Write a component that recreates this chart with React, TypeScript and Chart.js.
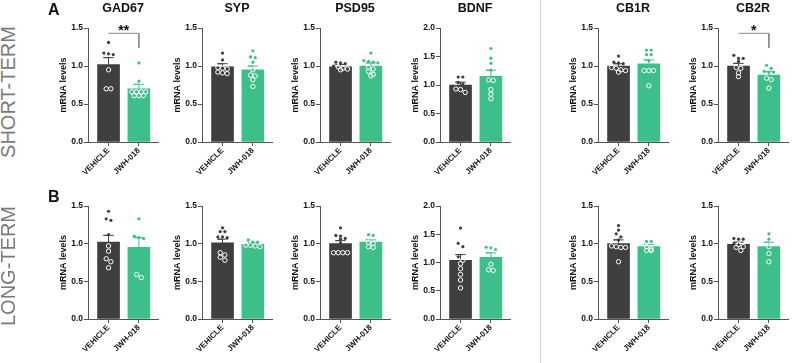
import React, { useEffect, useRef } from "react";
import { Chart, registerables } from "chart.js";

Chart.register(...registerables);
Chart.defaults.font.family = "'Liberation Sans', Arial, sans-serif";

// ---------------- DATA ----------------
const genes = ["GAD67", "SYP", "PSD95", "BDNF", "CB1R", "CB2R"];
const groups = ["VEHICLE", "JWH-018"];
const yMaxByGene = [1.5, 1.5, 1.5, 2.0, 1.5, 1.5];
const yStep = 0.5;

// SHORT-TERM (panel A)
const shortVehicleMean = [1.02, 0.99, 0.99, 1.0, 1.0, 1.0];
const shortVehicleSem = [0.09, 0.04, 0.03, 0.05, 0.03, 0.035];
const shortJwhMean = [0.7, 0.95, 1.0, 1.15, 1.03, 0.88];
const shortJwhSem = [0.06, 0.05, 0.04, 0.11, 0.05, 0.045];
const shortVehiclePoints = [
  [1.31, 1.17, 1.16, 1.15, 0.95, 0.7, 0.7],
  [1.17, 1.08, 0.98, 0.97, 0.96, 0.92, 0.91, 0.9],
  [1.05, 1.04, 1.03, 1.0, 0.99, 0.97, 0.96, 0.95],
  [1.14, 1.14, 1.04, 1.02, 0.93, 0.92, 0.87],
  [1.13, 1.05, 1.04, 1.03, 0.98, 0.97, 0.95, 0.94, 0.92],
  [1.14, 1.1, 1.1, 1.06, 0.98, 0.97, 0.91, 0.86],
];
const shortJwhPoints = [
  [1.04, 0.8, 0.66, 0.66, 0.66, 0.66, 0.61, 0.61, 0.61],
  [1.2, 1.12, 1.11, 1.05, 0.95, 0.88, 0.87, 0.82, 0.73],
  [1.17, 1.07, 1.06, 1.05, 1.04, 0.98, 0.96, 0.93, 0.89, 0.87],
  [1.64, 1.47, 1.38, 1.26, 1.09, 1.08, 0.92, 0.84, 0.76],
  [1.21, 1.21, 1.15, 1.15, 1.07, 0.94, 0.94, 0.94, 0.74],
  [1.01, 0.97, 0.93, 0.92, 0.92, 0.84, 0.82, 0.71],
];
const shortSignificance = ["**", "", "", "", "", "*"];

// LONG-TERM (panel B)
const longVehicleMean = [1.02, 1.01, 1.0, 1.04, 1.0, 0.99];
const longVehicleSem = [0.09, 0.05, 0.04, 0.1, 0.05, 0.03];
const longJwhMean = [0.95, 0.99, 1.02, 1.09, 0.96, 0.96];
const longJwhSem = [0.13, 0.02, 0.03, 0.08, 0.03, 0.06];
const longVehiclePoints = [
  [1.43, 1.33, 1.31, 1.12, 0.97, 0.9, 0.8, 0.76, 0.68],
  [1.21, 1.16, 1.16, 1.09, 1.09, 1.08, 0.88, 0.85, 0.82, 0.78],
  [1.21, 1.11, 1.1, 1.07, 1.06, 1.01, 0.88, 0.88, 0.88, 0.88],
  [1.61, 1.34, 1.28, 1.1, 1.04, 0.98, 0.89, 0.79, 0.69, 0.55],
  [1.24, 1.18, 1.13, 1.09, 1.05, 0.97, 0.96, 0.95, 0.95, 0.76],
  [1.07, 1.06, 1.06, 1.0, 0.99, 0.96, 0.95, 0.91],
];
const longJwhPoints = [
  [1.33, 1.1, 1.08, 1.07, 0.59, 0.55],
  [1.05, 1.02, 1.02, 0.98, 0.98, 0.97, 0.96],
  [1.12, 1.11, 1.02, 1.0, 0.96, 0.95],
  [1.27, 1.26, 1.23, 0.97, 0.87, 0.86],
  [1.03, 1.03, 0.96, 0.93, 0.91, 0.91],
  [1.13, 1.06, 0.96, 0.87, 0.76],
];
const longSignificance = ["", "", "", "", "", ""];

const bracketY = 1.43;
const bracketLegEnd = 1.24;

// ---------------- LAYOUT / STYLE ----------------
const DARK = "#3f3f3f";
const GREEN = "#3dbf8a";
const AXIS = "#555";
const COLUMN_AXIS_X = [88, 202, 320, 440, 598, 718];
const ROW_TOP = [0, 178];
const PLOT_H = [114, 113];
const PAD_TOP = 28;
const Y_AXIS_W = 40;
const X_AXIS_H = 40;
const PLOT_W = 75;
const X_MIN = -0.677;
const X_MAX = 1.63;
const PX_PER_X = PLOT_W / (X_MAX - X_MIN);

type Pt = { x: number; y: number };

function swarm(values: number[], center: number, yMax: number, plotH: number): Pt[] {
  const pxY = plotH / yMax;
  const sorted = [...values].sort((a, b) => b - a);
  const rows: number[][] = [];
  for (const v of sorted) {
    const last = rows[rows.length - 1];
    if (last && (last[0] - v) * pxY < 3.5) last.push(v);
    else rows.push([v]);
  }
  const step = 5 / PX_PER_X;
  const pts: Pt[] = [];
  for (const r of rows) {
    r.forEach((v, k) => pts.push({ x: center + (k - (r.length - 1) / 2) * step, y: v }));
  }
  return pts;
}

function errPath(center: number, mean: number, sem: number): Pt[] {
  const cap = 5.5 / PX_PER_X;
  const top = mean + sem;
  return [
    { x: center, y: mean },
    { x: center, y: top },
    { x: center - cap, y: top },
    { x: center + cap, y: top },
  ];
}

function makeConfig(row: number, gi: number): any {
  const isShort = row === 0;
  const vm = (isShort ? shortVehicleMean : longVehicleMean)[gi];
  const vs = (isShort ? shortVehicleSem : longVehicleSem)[gi];
  const jm = (isShort ? shortJwhMean : longJwhMean)[gi];
  const js = (isShort ? shortJwhSem : longJwhSem)[gi];
  const vp = (isShort ? shortVehiclePoints : longVehiclePoints)[gi];
  const jp = (isShort ? shortJwhPoints : longJwhPoints)[gi];
  const sig = (isShort ? shortSignificance : longSignificance)[gi];
  const yMax = yMaxByGene[gi];
  const plotH = PLOT_H[row];

  const vSw = swarm(vp, 0, yMax, plotH);
  const jSw = swarm(jp, 1, yMax, plotH);

  const datasets: any[] = [
    {
      type: "bar",
      data: [
        { x: 0, y: vm },
        { x: 1, y: jm },
      ],
      backgroundColor: [DARK, GREEN],
      borderWidth: 0,
      barThickness: 22,
      order: 5,
    },
    {
      type: "line",
      data: errPath(0, vm, vs),
      borderColor: DARK,
      borderWidth: 1,
      pointRadius: 0,
      tension: 0,
      fill: false,
      order: 4,
    },
    {
      type: "line",
      data: errPath(1, jm, js),
      borderColor: GREEN,
      borderWidth: 1,
      pointRadius: 0,
      tension: 0,
      fill: false,
      order: 4,
    },
    {
      type: "scatter",
      data: vSw.filter((p) => p.y > vm),
      pointRadius: 1.6,
      pointBackgroundColor: DARK,
      pointBorderWidth: 0,
      order: 1,
    },
    {
      type: "scatter",
      data: vSw.filter((p) => p.y <= vm),
      pointRadius: 2.2,
      pointBackgroundColor: "rgba(0,0,0,0)",
      pointBorderColor: "#ffffff",
      pointBorderWidth: 1,
      order: 1,
    },
    {
      type: "scatter",
      data: jSw.filter((p) => p.y > jm),
      pointRadius: 1.6,
      pointBackgroundColor: GREEN,
      pointBorderWidth: 0,
      order: 1,
    },
    {
      type: "scatter",
      data: jSw.filter((p) => p.y <= jm),
      pointRadius: 2.2,
      pointBackgroundColor: "rgba(0,0,0,0)",
      pointBorderColor: "#ffffff",
      pointBorderWidth: 1,
      order: 1,
    },
  ];

  if (sig) {
    datasets.push({
      type: "line",
      data: [
        { x: 0, y: bracketY },
        { x: 1, y: bracketY },
        { x: 1, y: bracketLegEnd },
      ],
      borderColor: "#888",
      borderWidth: 1,
      pointRadius: 0,
      tension: 0,
      fill: false,
      order: 0,
    });
  }

  const sigPlugin = {
    id: "sigText",
    afterDatasetsDraw(chart: any) {
      if (!sig) return;
      const ctx = chart.ctx;
      const xs = chart.scales.x;
      const ys = chart.scales.y;
      ctx.save();
      ctx.fillStyle = "#111";
      ctx.font = "bold 14px 'Liberation Sans', Arial, sans-serif";
      ctx.textAlign = "center";
      ctx.textBaseline = "alphabetic";
      ctx.fillText(sig, xs.getPixelForValue(0.5), ys.getPixelForValue(bracketY) + 2);
      ctx.restore();
    },
  };

  return {
    type: "bar",
    data: { datasets },
    plugins: [sigPlugin],
    options: {
      animation: false,
      responsive: false,
      devicePixelRatio: 1,
      events: [],
      layout: { padding: { top: isShort ? 0 : PAD_TOP, left: 0, right: 0, bottom: 0 } },
      plugins: {
        legend: { display: false },
        tooltip: { enabled: false },
        title: {
          display: isShort,
          text: genes[gi],
          fullSize: false,
          color: "#111",
          font: { size: 12.5, weight: "bold", lineHeight: 1.2 },
          padding: { top: 1, bottom: 12 },
        },
      },
      scales: {
        x: {
          type: "linear",
          min: X_MIN,
          max: X_MAX,
          bounds: "data",
          offset: false,
          afterBuildTicks: (s: any) => {
            s.ticks = groups.map((_, i) => ({ value: i }));
          },
          afterFit: (s: any) => {
            s.height = X_AXIS_H;
          },
          grid: {
            display: true,
            offset: false,
            drawOnChartArea: false,
            drawTicks: true,
            tickLength: 4,
            color: AXIS,
            lineWidth: 1,
          },
          border: { display: true, color: AXIS, width: 1 },
          ticks: {
            autoSkip: false,
            maxRotation: 45,
            minRotation: 45,
            padding: 0,
            color: "#111",
            font: { size: 8, weight: "bold" },
            callback: (v: any) => groups[Math.round(v)] ?? "",
          },
        },
        y: {
          type: "linear",
          min: 0,
          max: yMax,
          afterFit: (s: any) => {
            s.width = Y_AXIS_W;
          },
          grid: {
            display: true,
            drawOnChartArea: false,
            drawTicks: true,
            tickLength: 4,
            color: AXIS,
            lineWidth: 1,
          },
          border: { display: true, color: AXIS, width: 1 },
          ticks: {
            stepSize: yStep,
            padding: 1,
            color: "#111",
            font: { size: 8.5, weight: "bold" },
            callback: (v: any) => Number(v).toFixed(1),
          },
          title: {
            display: true,
            text: "mRNA levels",
            color: "#111",
            font: { size: 9, weight: "bold", lineHeight: 1.2 },
            padding: { top: 10, bottom: 0 },
          },
        },
      },
    },
  };
}

function Panel({ row, gi }: { row: number; gi: number }) {
  const ref = useRef<HTMLCanvasElement | null>(null);
  const width = Y_AXIS_W + PLOT_W;
  const height = PAD_TOP + PLOT_H[row] + X_AXIS_H;
  useEffect(() => {
    if (!ref.current) return;
    const chart = new Chart(ref.current, makeConfig(row, gi));
    return () => chart.destroy();
  }, [row, gi]);
  return (
    <canvas
      ref={ref}
      width={width}
      height={height}
      style={{
        position: "absolute",
        left: COLUMN_AXIS_X[gi] - Y_AXIS_W,
        top: ROW_TOP[row],
        width,
        height,
      }}
    />
  );
}

const sideLabel: React.CSSProperties = {
  position: "absolute",
  fontFamily: "'Liberation Sans', Arial, sans-serif",
  fontSize: 20,
  lineHeight: "20px",
  color: "#7a7a7a",
  whiteSpace: "nowrap",
  transform: "translate(-50%, -50%) rotate(-90deg)",
};

const letterLabel: React.CSSProperties = {
  position: "absolute",
  fontFamily: "'Liberation Sans', Arial, sans-serif",
  fontSize: 16,
  lineHeight: "16px",
  fontWeight: "bold",
  color: "#111",
};

export default function App() {
  return (
    <div
      style={{
        position: "absolute",
        left: 0,
        top: 0,
        width: 794,
        height: 363,
        background: "#fff",
        overflow: "hidden",
      }}
    >
      <div style={{ position: "absolute", left: 540, top: 0, width: 1, height: 363, background: "#d4d4d4" }} />
      {[0, 1].map((row) =>
        genes.map((_, gi) => <Panel key={`${row}-${gi}`} row={row} gi={gi} />)
      )}
      <div style={{ ...sideLabel, left: 8, top: 91.5 }}>SHORT-TERM</div>
      <div style={{ ...sideLabel, left: 8, top: 265.5 }}>LONG-TERM</div>
      <div style={{ ...letterLabel, left: 48, top: 2 }}>A</div>
      <div style={{ ...letterLabel, left: 48, top: 189 }}>B</div>
    </div>
  );
}
